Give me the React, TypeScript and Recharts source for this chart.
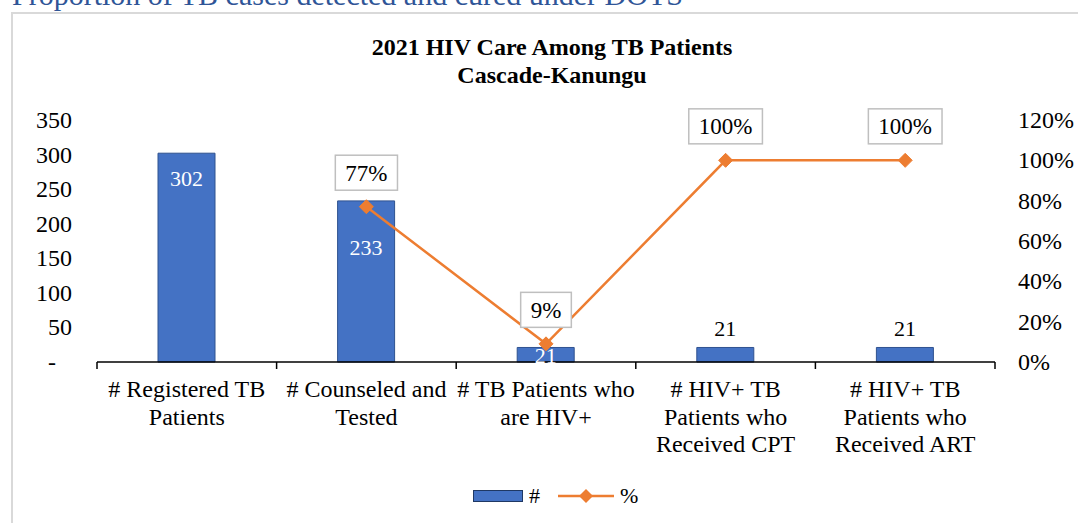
import React from 'react';
import { ComposedChart, Bar, Line, XAxis, YAxis, LabelList } from 'recharts';

const categories = [
  '# Registered TB\nPatients',
  '# Counseled and\nTested',
  '# TB Patients who\nare HIV+',
  '# HIV+ TB\nPatients who\nReceived CPT',
  '# HIV+ TB\nPatients who\nReceived ART',
];
const counts = [302, 233, 21, 21, 21];
const percents: (number | null)[] = [null, 0.77, 0.09, 1.0, 1.0];
const leftTicks = [0, 50, 100, 150, 200, 250, 300, 350];
const rightTicks = [0, 0.2, 0.4, 0.6, 0.8, 1.0, 1.2];

const data = categories.map((c, i) => ({ name: c, count: counts[i], pct: percents[i] }));

const FONT = '"Liberation Serif", "Times New Roman", serif';
const FS = 24;
const BLUE = '#4472C4';
const ORANGE = '#ED7D31';

const XTick = (props: any) => {
  const { x, y, payload, index } = props;
  const off = payload && payload.offset ? payload.offset : 90;
  const lines = String(payload.value).split('\n');
  return (
    <g>
      <line x1={x - off} x2={x - off} y1={y} y2={y + 7} stroke="#000" strokeWidth={1.5} />
      {index === categories.length - 1 && (
        <line x1={x + off} x2={x + off} y1={y} y2={y + 7} stroke="#000" strokeWidth={1.5} />
      )}
      <text x={x} y={y + 35} textAnchor="middle" fontFamily={FONT} fontSize={FS} fill="#000">
        {lines.map((l, i) => (
          <tspan key={i} x={x} dy={i === 0 ? 0 : 27.5}>
            {l}
          </tspan>
        ))}
      </text>
    </g>
  );
};

const LeftTick = (props: any) => {
  const { x, y, payload } = props;
  const v = payload.value;
  return (
    <text x={v === 0 ? x - 16 : x} y={y} dy={8} textAnchor="end" fontFamily={FONT} fontSize={FS} fill="#000">
      {v === 0 ? '-' : v}
    </text>
  );
};

const RightTick = (props: any) => {
  const { x, y, payload } = props;
  return (
    <text x={x} y={y} dy={8} textAnchor="start" fontFamily={FONT} fontSize={FS} fill="#000">
      {`${Math.round(payload.value * 100)}%`}
    </text>
  );
};

const BarLabel = (props: any) => {
  const { x, y, width, value, index } = props;
  let ty = y + 26;
  let fill = '#fff';
  if (index === 1) ty = y + 47;
  else if (index === 2) ty = y + 9;
  else if (index > 2) {
    ty = y - 18;
    fill = '#000';
  }
  return (
    <text x={x + width / 2} y={ty} dy={7} textAnchor="middle" fontFamily={FONT} fontSize={FS - 2} fill={fill}>
      {value}
    </text>
  );
};

const PctLabel = (props: any) => {
  const { x, y, value } = props;
  if (value === null || value === undefined) return null;
  const txt = `${Math.round(value * 100)}%`;
  const tw = txt.split('').reduce((s, ch) => s + (ch === '%' ? 0.833 : 0.5), 0) * 23;
  const w = tw + 20;
  const h = 35;
  const cy = y - 34;
  return (
    <g>
      <rect x={x - w / 2} y={cy - h / 2} width={w} height={h} fill="#fff" stroke="#BFBFBF" strokeWidth={1.5} />
      <text x={x} y={cy} dy={8} textAnchor="middle" fontFamily={FONT} fontSize={23} fill="#000">
        {txt}
      </text>
    </g>
  );
};

const Diamond = (props: any) => {
  const { cx, cy, value } = props;
  if (value === null || value === undefined || cx == null || cy == null) return <g />;
  const s = 7;
  return (
    <polygon
      points={`${cx},${cy - s} ${cx + s},${cy} ${cx},${cy + s} ${cx - s},${cy}`}
      fill={ORANGE}
      stroke={ORANGE}
      strokeWidth={1}
    />
  );
};

export default function App() {
  return (
    <div
      style={{
        position: 'absolute',
        left: 0,
        top: 0,
        width: 1078,
        height: 523,
        overflow: 'hidden',
        background: '#fff',
        fontFamily: FONT,
      }}
    >
      <div
        style={{
          position: 'absolute',
          left: 12,
          top: -20,
          fontSize: 30,
          lineHeight: '30px',
          color: '#2F5597',
          whiteSpace: 'nowrap',
        }}
      >
        Proportion of TB cases detected and cured under DOTS
      </div>
      <div
        style={{
          position: 'absolute',
          left: 11,
          top: 12,
          width: 1200,
          height: 600,
          borderLeft: '2px solid #D9D9D9',
          borderTop: '2px solid #D9D9D9',
        }}
      />
      <div
        style={{
          position: 'absolute',
          left: 0,
          top: 33,
          width: 1104,
          textAlign: 'center',
          fontWeight: 'bold',
          fontSize: 24,
          lineHeight: '28px',
          color: '#000',
        }}
      >
        2021 HIV Care Among TB Patients
        <br />
        Cascade-Kanungu
      </div>
      <div style={{ position: 'absolute', left: 0, top: 0 }}>
        <ComposedChart
          width={1078}
          height={523}
          data={data}
          margin={{ top: 120, right: 23, left: 37, bottom: 81 }}
        >
          <XAxis
            dataKey="name"
            interval={0}
            tick={<XTick />}
            tickLine={false}
            tickSize={0}
            tickMargin={0}
            axisLine={{ stroke: '#000', strokeWidth: 1.5 }}
            height={80}
          />
          <YAxis
            yAxisId="left"
            domain={[0, 350]}
            ticks={leftTicks}
            interval={0}
            tick={<LeftTick />}
            tickLine={false}
            axisLine={false}
            tickSize={0}
            tickMargin={25}
            width={60}
          />
          <YAxis
            yAxisId="right"
            orientation="right"
            domain={[0, 1.2]}
            ticks={rightTicks}
            interval={0}
            tick={<RightTick />}
            tickLine={false}
            axisLine={false}
            tickSize={0}
            tickMargin={23}
            width={60}
          />
          <Bar
            yAxisId="left"
            dataKey="count"
            fill={BLUE}
            stroke="#2F528F"
            strokeWidth={1}
            barSize={57}
            isAnimationActive={false}
          >
            <LabelList dataKey="count" content={<BarLabel />} />
          </Bar>
          <Line
            yAxisId="right"
            dataKey="pct"
            stroke={ORANGE}
            strokeWidth={2.5}
            dot={<Diamond />}
            activeDot={false}
            isAnimationActive={false}
          >
            <LabelList dataKey="pct" content={<PctLabel />} />
          </Line>
        </ComposedChart>
      </div>
      <div
        style={{
          position: 'absolute',
          left: 473,
          top: 482,
          display: 'flex',
          alignItems: 'center',
          fontSize: 22,
          color: '#000',
          height: 28,
        }}
      >
        <div style={{ width: 50, height: 12, background: BLUE, border: '1px solid #1F3864', boxSizing: 'border-box' }} />
        <span style={{ marginLeft: 6 }}>#</span>
        <svg width={56} height={16} style={{ marginLeft: 18 }}>
          <line x1={0} y1={8} x2={56} y2={8} stroke={ORANGE} strokeWidth={2.5} />
          <polygon points="28,1 35,8 28,15 21,8" fill={ORANGE} />
        </svg>
        <span style={{ marginLeft: 6 }}>%</span>
      </div>
    </div>
  );
}
